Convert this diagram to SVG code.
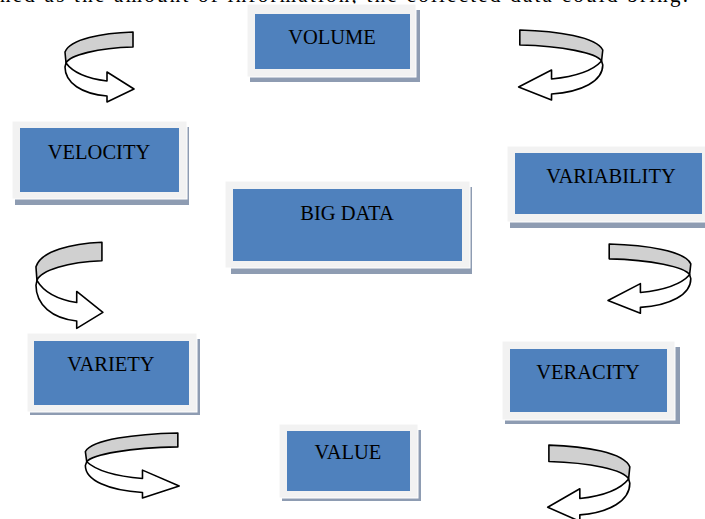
<svg xmlns="http://www.w3.org/2000/svg" width="705" height="519" viewBox="0 0 705 519">
<style>
.shadow{fill:#8e9cb2}
.frame{fill:#f2f2f2;stroke:#ffffff;stroke-width:1}
.blue{fill:#4f81bd}
.lbl{font-family:"Liberation Serif","Times New Roman",serif;font-size:20.5px;fill:#000;text-anchor:middle}
.back{fill:#d0d0d0;stroke:#000;stroke-width:1.6;stroke-linejoin:round;vector-effect:non-scaling-stroke}
.front{fill:#ffffff;stroke:#000;stroke-width:1.6;stroke-linejoin:round;vector-effect:non-scaling-stroke}
</style>
<defs>
<g id="curl">
<path class="back" d="M69,1 C38,2 6,8 1,21 L2,32 C6,24 34,17 69,16 Z"/>
<path class="front" d="M2,32 C10,43 27,48 43,50 L43,41 L70,58 L43,71 L43,65 C18,63 1,52 1,36 Z"/>
</g>
</defs>
<rect width="705" height="519" fill="#ffffff"/>
<text x="0" y="2" font-family="Liberation Serif, serif" font-size="21" textLength="688" lengthAdjust="spacing" fill="#000">ned as the amount of information, the collected data could bring.</text>
<g id="connectors">
<use href="#curl" transform="translate(64,31)"/>
<use href="#curl" transform="translate(604,29) scale(-1.22,1)"/>
<use href="#curl" transform="translate(35,241) scale(0.97,1.23)"/>
<use href="#curl" transform="translate(692,243) scale(-1.2,0.99)"/>
<use href="#curl" transform="translate(84,432) scale(1.36,0.93)"/>
<use href="#curl" transform="translate(631,444) scale(-1.19,1.09)"/>
</g>
<g id="volume">
<rect class="shadow" x="250" y="10" width="170" height="72"/>
<rect class="frame" x="247" y="4" width="169" height="73"/>
<rect class="blue" x="255" y="14" width="155" height="55"/>
<text class="lbl" x="332" y="44">VOLUME</text>
</g>
<g id="velocity">
<rect class="shadow" x="15" y="127" width="174" height="78"/>
<rect class="frame" x="12" y="121" width="175" height="78"/>
<rect class="blue" x="20" y="128" width="159" height="64"/>
<text class="lbl" x="99" y="159">VELOCITY</text>
</g>
<g id="variability">
<rect class="shadow" x="510" y="152" width="200" height="76"/>
<rect class="frame" x="507" y="146" width="200" height="76"/>
<rect class="blue" x="515" y="153" width="187" height="61"/>
<text class="lbl" x="611" y="183">VARIABILITY</text>
</g>
<g id="bigdata">
<rect class="shadow" x="231" y="187" width="241" height="87"/>
<rect class="frame" x="225" y="181" width="245" height="87"/>
<rect class="blue" x="233" y="189" width="229" height="72"/>
<text class="lbl" x="347" y="220">BIG DATA</text>
</g>
<g id="variety">
<rect class="shadow" x="30" y="339" width="170" height="76"/>
<rect class="frame" x="27" y="333" width="170" height="79"/>
<rect class="blue" x="34" y="341" width="155" height="64"/>
<text class="lbl" x="111" y="371">VARIETY</text>
</g>
<g id="veracity">
<rect class="shadow" x="505" y="347" width="175" height="77"/>
<rect class="frame" x="502" y="341" width="173" height="79"/>
<rect class="blue" x="510" y="349" width="157" height="63"/>
<text class="lbl" x="588" y="379">VERACITY</text>
</g>
<g id="value">
<rect class="shadow" x="282" y="430" width="139" height="71"/>
<rect class="frame" x="279" y="424" width="139" height="74"/>
<rect class="blue" x="287" y="431" width="123" height="60"/>
<text class="lbl" x="348" y="459">VALUE</text>
</g>
</svg>
